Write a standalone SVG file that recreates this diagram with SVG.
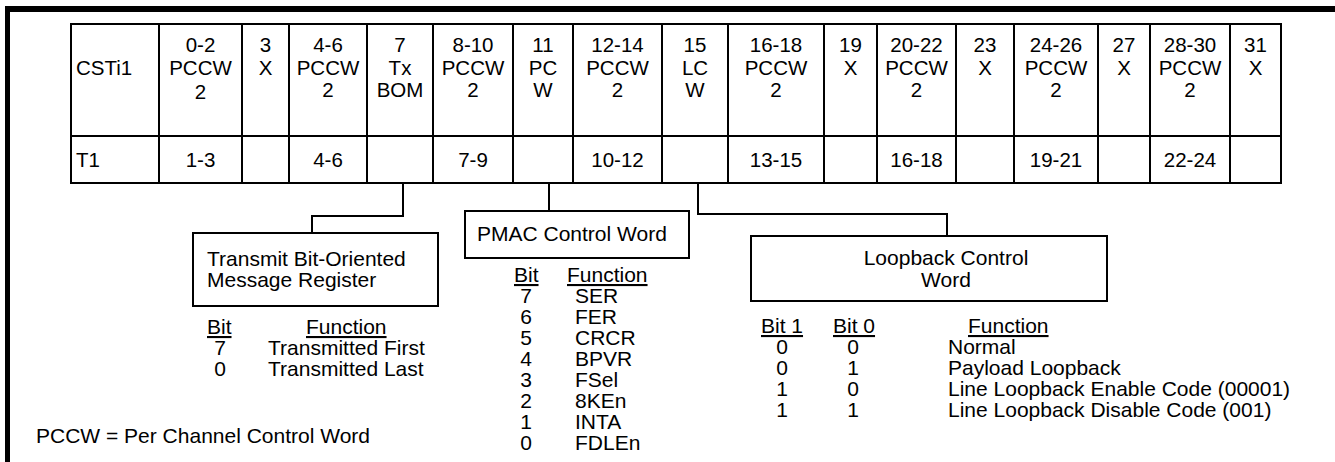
<svg xmlns="http://www.w3.org/2000/svg" width="1335" height="462" viewBox="0 0 1335 462">
<style>
text{font-family:"Liberation Sans",Arial,sans-serif;font-size:21px;fill:#000}
#table text{font-size:20.5px}
.c{text-anchor:middle}
.u{text-decoration:underline}
.ln{stroke:#000;stroke-width:2;fill:none}
.bx{stroke:#000;stroke-width:2;fill:#fff}
</style>
<rect width="1335" height="462" fill="#fff"/>
<g id="frame">
<rect x="5" y="6" width="1330" height="6" fill="#000"/>
<rect x="5" y="6" width="5" height="456" fill="#000"/>
</g>
<g id="table">
<rect class="ln" x="71" y="24" width="1210" height="159"/>
<line class="ln" x1="71" y1="136" x2="1281" y2="136"/>
<path class="ln" d="M159 24V183M242 24V183M289 24V183M367 24V183M433 24V183M513 24V183M573 24V183M662 24V183M728 24V183M824 24V183M877 24V183M956 24V183M1014 24V183M1098 24V183M1150 24V183M1230 24V183"/>
<text x="76" y="75">CSTi1</text>
<text x="76" y="167">T1</text>
<g class="c">
<text x="200.5" y="52">0-2</text><text x="200.5" y="75">PCCW</text><text x="200.5" y="99">2</text><text x="200.5" y="167">1-3</text>
<text x="265.5" y="52">3</text><text x="265.5" y="75">X</text>
<text x="328" y="52">4-6</text><text x="328" y="75">PCCW</text><text x="328" y="97">2</text><text x="328" y="167">4-6</text>
<text x="400" y="52">7</text><text x="400" y="75">Tx</text><text x="400" y="97">BOM</text>
<text x="473" y="52">8-10</text><text x="473" y="75">PCCW</text><text x="473" y="97">2</text><text x="473" y="167">7-9</text>
<text x="543" y="52">11</text><text x="543" y="75">PC</text><text x="543" y="97">W</text>
<text x="617.5" y="52">12-14</text><text x="617.5" y="75">PCCW</text><text x="617.5" y="97">2</text><text x="617.5" y="167">10-12</text>
<text x="695" y="52">15</text><text x="695" y="75">LC</text><text x="695" y="97">W</text>
<text x="776" y="52">16-18</text><text x="776" y="75">PCCW</text><text x="776" y="97">2</text><text x="776" y="167">13-15</text>
<text x="850.5" y="52">19</text><text x="850.5" y="75">X</text>
<text x="916.5" y="52">20-22</text><text x="916.5" y="75">PCCW</text><text x="916.5" y="97">2</text><text x="916.5" y="167">16-18</text>
<text x="985" y="52">23</text><text x="985" y="75">X</text>
<text x="1056" y="52">24-26</text><text x="1056" y="75">PCCW</text><text x="1056" y="97">2</text><text x="1056" y="167">19-21</text>
<text x="1124" y="52">27</text><text x="1124" y="75">X</text>
<text x="1190" y="52">28-30</text><text x="1190" y="75">PCCW</text><text x="1190" y="97">2</text><text x="1190" y="167">22-24</text>
<text x="1255.5" y="52">31</text><text x="1255.5" y="75">X</text>
</g>
</g>
<g id="connectors">
<path class="ln" d="M403 183V216H312V233"/>
<path class="ln" d="M549 183V211"/>
<path class="ln" d="M698 183V214H947V236"/>
</g>
<g id="tbom">
<rect class="bx" x="193" y="233" width="245" height="73"/>
<text x="207" y="266">Transmit Bit-Oriented</text>
<text x="207" y="287">Message Register</text>
<text x="207" y="334" class="u">Bit</text>
<text x="306" y="334" class="u">Function</text>
<text x="220" y="355" class="c">7</text><text x="268" y="355">Transmitted First</text>
<text x="220" y="376" class="c">0</text><text x="268" y="376">Transmitted Last</text>
</g>
<g id="pmac">
<rect class="bx" x="465" y="211" width="224" height="47"/>
<text x="477" y="241">PMAC Control Word</text>
<text x="514" y="282" class="u">Bit</text>
<text x="567" y="282" class="u">Function</text>
<g class="c">
<text x="526" y="303">7</text><text x="526" y="324">6</text><text x="526" y="345">5</text><text x="526" y="366">4</text>
<text x="526" y="387">3</text><text x="526" y="408">2</text><text x="526" y="429">1</text><text x="526" y="450">0</text>
</g>
<text x="575" y="303">SER</text><text x="575" y="324">FER</text><text x="575" y="345">CRCR</text><text x="575" y="366">BPVR</text>
<text x="575" y="387">FSel</text><text x="575" y="408">8KEn</text><text x="575" y="429">INTA</text><text x="575" y="450">FDLEn</text>
</g>
<g id="lcw">
<rect class="bx" x="751" y="236" width="356" height="65"/>
<text x="946" y="265" class="c">Loopback Control</text>
<text x="946" y="287" class="c">Word</text>
<text x="761" y="333" class="u">Bit 1</text>
<text x="833" y="333" class="u">Bit 0</text>
<text x="968" y="333" class="u">Function</text>
<g class="c">
<text x="782" y="354">0</text><text x="853" y="354">0</text>
<text x="782" y="375">0</text><text x="853" y="375">1</text>
<text x="782" y="396">1</text><text x="853" y="396">0</text>
<text x="782" y="417">1</text><text x="853" y="417">1</text>
</g>
<text x="948" y="354">Normal</text>
<text x="948" y="375">Payload Loopback</text>
<text x="948" y="396">Line Loopback Enable Code (00001)</text>
<text x="948" y="417">Line Loopback Disable Code (001)</text>
</g>
<g id="note">
<text x="36" y="443">PCCW = Per Channel Control Word</text>
</g>
</svg>
